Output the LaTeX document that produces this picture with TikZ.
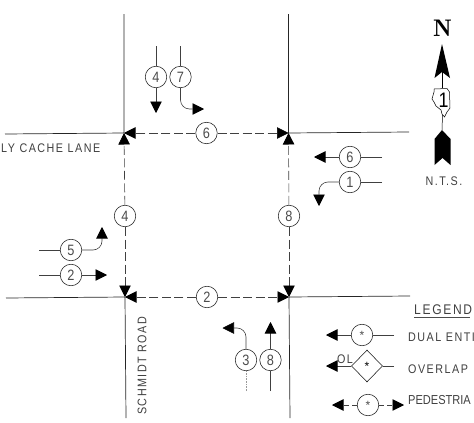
\documentclass[tikz,border=0pt]{standalone}
\usepackage{fontspec}
\setmainfont{Liberation Sans}
\newfontfamily\capsfont[LetterSpace=12,FakeStretch=0.86]{Liberation Sans}
\newfontfamily\numfont[FakeStretch=0.85]{Liberation Sans}
\usetikzlibrary{arrows.meta,shapes.geometric}
\tikzset{
  road/.style={draw=black!85, line width=0.7pt},
  phaseline/.style={draw=black!75, line width=0.6pt},
  walkline/.style={draw=black!75, line width=0.6pt, dash pattern=on 9pt off 3.5pt},
  tip/.style={-{Triangle[length=11.5pt,width=11.5pt,color=black,fill=black]}},
  phase/.style={circle, draw=black!90, line width=0.55pt, fill=white, minimum size=21.5pt, inner sep=0pt, font=\numfont\fontsize{15}{15}\selectfont, text=black!70},
  olphase/.style={diamond, draw=black!90, line width=0.55pt, fill=white, minimum width=31pt, minimum height=32pt, inner sep=0pt, font=\fontsize{12}{12}\selectfont},
  plan/.style={font=\capsfont\fontsize{12.5}{12.5}\selectfont, text=black!75, inner sep=0pt, anchor=west}
}
\begin{document}
\begin{tikzpicture}[x=1pt, y=-1pt]
  \useasboundingbox (0,0) rectangle (474,423);
  % roads
  \coordinate (nw) at (124,133);
  \coordinate (ne) at (288.5,133);
  \coordinate (sw) at (125,297);
  \coordinate (se) at (289,297);
  \coordinate (nwtop) at (124,14);
  \coordinate (netop) at (288.5,14);
  \coordinate (swbot) at (126,418);
  \coordinate (sebot) at (290,418);
  \coordinate (nwleft) at (5,134);
  \coordinate (neright) at (409,132);
  \coordinate (swleft) at (6,298);
  \coordinate (seright) at (410,296);
  \draw[road] (nwtop) -- (nw) -- (nwleft);
  \draw[road] (netop) -- (ne) -- (neright);
  \draw[road] (swleft) -- (sw) -- (swbot);
  \draw[road] (seright) -- (se) -- (sebot);
  % pedestrian phases
  \node[phase] (walk6) at (206.5,133) {6};
  \node[phase] (walk2) at (207,297) {2};
  \node[phase] (walk4) at (125,216) {4};
  \node[phase] (walk8) at (289,216) {8};
  \draw[walkline,tip] (walk6) -- (nw);
  \draw[walkline,tip] (walk6) -- (ne);
  \draw[walkline,tip] (walk2) -- (sw);
  \draw[walkline,tip] (walk2) -- (se);
  \draw[walkline,tip] (walk4) -- (nw);
  \draw[walkline,tip] (walk4) -- (sw);
  \draw[walkline,tip] (walk8) -- (ne);
  \draw[walkline,tip] (walk8) -- (se);
  % southbound
  \node[phase] (sb4) at (156,77) {4};
  \node[phase] (sb7) at (180.5,77) {7};
  \coordinate (sb4top) at (156,46);
  \coordinate (sb7top) at (180.5,46);
  \coordinate (sb4end) at (156,113);
  \coordinate (sb7end) at (204,109);
  \draw[phaseline] (sb4top) -- (sb4);
  \draw[phaseline] (sb7top) -- (sb7);
  \draw[phaseline,tip] (sb4) -- (sb4end);
  \draw[phaseline,tip,rounded corners=9pt] (sb7) |- (sb7end);
  % westbound
  \node[phase] (wb6) at (350,157) {6};
  \node[phase] (wb1) at (350,182) {1};
  \coordinate (wb6start) at (382,157);
  \coordinate (wb1start) at (382,182);
  \coordinate (wb6end) at (314,157);
  \coordinate (wb1end) at (319,206);
  \draw[phaseline] (wb6start) -- (wb6);
  \draw[phaseline] (wb1start) -- (wb1);
  \draw[phaseline,tip] (wb6) -- (wb6end);
  \draw[phaseline,tip,rounded corners=9pt] (wb1) -| (wb1end);
  % eastbound
  \node[phase] (eb5) at (71,250) {5};
  \node[phase] (eb2) at (71,275) {2};
  \coordinate (eb5start) at (39,250);
  \coordinate (eb2start) at (39,275);
  \coordinate (eb5end) at (102,227);
  \coordinate (eb2end) at (107,275);
  \draw[phaseline] (eb5start) -- (eb5);
  \draw[phaseline] (eb2start) -- (eb2);
  \draw[phaseline,tip,rounded corners=9pt] (eb5) -| (eb5end);
  \draw[phaseline,tip] (eb2) -- (eb2end);
  % northbound
  \node[phase] (nb3) at (246,360) {3};
  \node[phase] (nb8) at (270.5,360) {8};
  \coordinate (nb3start) at (246,391);
  \coordinate (nb8start) at (270.5,391);
  \coordinate (nb3end) at (222.5,328);
  \coordinate (nb8end) at (270.5,322);
  \draw[phaseline,densely dotted,draw=black!40] (nb3start) -- (nb3);
  \draw[phaseline] (nb8start) -- (nb8);
  \draw[phaseline,tip,rounded corners=9pt] (nb3) |- (nb3end);
  \draw[phaseline,tip] (nb8) -- (nb8end);
  % street names
  \node[plan] (cache) at (1,148.5) {LY CACHE LANE};
  \node[plan,rotate=90] (schmidt) at (142,415) {SCHMIDT ROAD};
  % north arrow
  \node[font=\fontfamily{lmr}\fontsize{24}{24}\bfseries\selectfont, inner sep=0pt] (north) at (442.5,28.5) {N};
  \coordinate (arrowtop) at (442,44);
  \coordinate (arrowbase) at (442,72);
  \coordinate (tailtop) at (442,130);
  \fill[black] (arrowtop) -- (450,78) -- (arrowbase) -- (434.5,78) -- cycle;
  \fill[black] (tailtop) -- (450.5,139) -- (450.5,165) -- (442.5,158) -- (434.5,165) -- (434.5,139) -- cycle;
  \draw[line width=0.5pt,fill=white] (432,99) -- (434,92) -- (434,89) -- (447,88.5) -- (449.5,92) -- (450,108) -- (447,112) -- (444.5,117) -- (442,114) -- (441,110) -- (436,106) -- (434,102) -- cycle;
  \node[font=\numfont\fontsize{21}{21}\selectfont, inner sep=0pt] (shield) at (443.5,100.5) {1};
  \draw[line width=0.5pt] (arrowbase) -- (442,88);
  \draw[line width=0.5pt] (442.5,115) -- (tailtop);
  \node[plan,anchor=center] (nts) at (444,181) {N.T.S.};
  % legend
  \node[plan,font=\capsfont\fontsize{14}{14}\selectfont] (legend) at (414,310) {LEGEND};
  \draw[line width=0.5pt,draw=black!70] (414,317.5) -- (470,317.5);
  \node[phase,font=\fontsize{12}{12}\selectfont] (dual) at (362,335) {*};
  \coordinate (dualstart) at (394,335);
  \coordinate (dualend) at (326,335);
  \draw[phaseline] (dualstart) -- (dual);
  \draw[phaseline,tip] (dual) -- (dualend);
  \node[plan] (dualtext) at (408,337) {DUAL ENTI};
  \node[olphase] (over) at (367,366) {*};
  \coordinate (overstart) at (394,366);
  \coordinate (overend) at (326,366);
  \draw[phaseline] (overstart) -- (over);
  \draw[phaseline,tip] (over) -- (overend);
  \node[plan,anchor=center] (ol) at (345,359) {OL};
  \node[plan] (overtext) at (408,369) {OVERLAP};
  \node[phase,font=\fontsize{12}{12}\selectfont] (ped) at (368,405) {*};
  \coordinate (pedleft) at (332,405);
  \coordinate (pedright) at (404,405);
  \draw[walkline,dash pattern=on 5pt off 3pt,tip] (ped) -- (pedleft);
  \draw[walkline,dash pattern=on 5pt off 3pt,tip] (ped) -- (pedright);
  \node[plan,font=\numfont\fontsize{13}{13}\selectfont] (pedtext) at (408,400) {PEDESTRIA};
\end{tikzpicture}
\end{document}
